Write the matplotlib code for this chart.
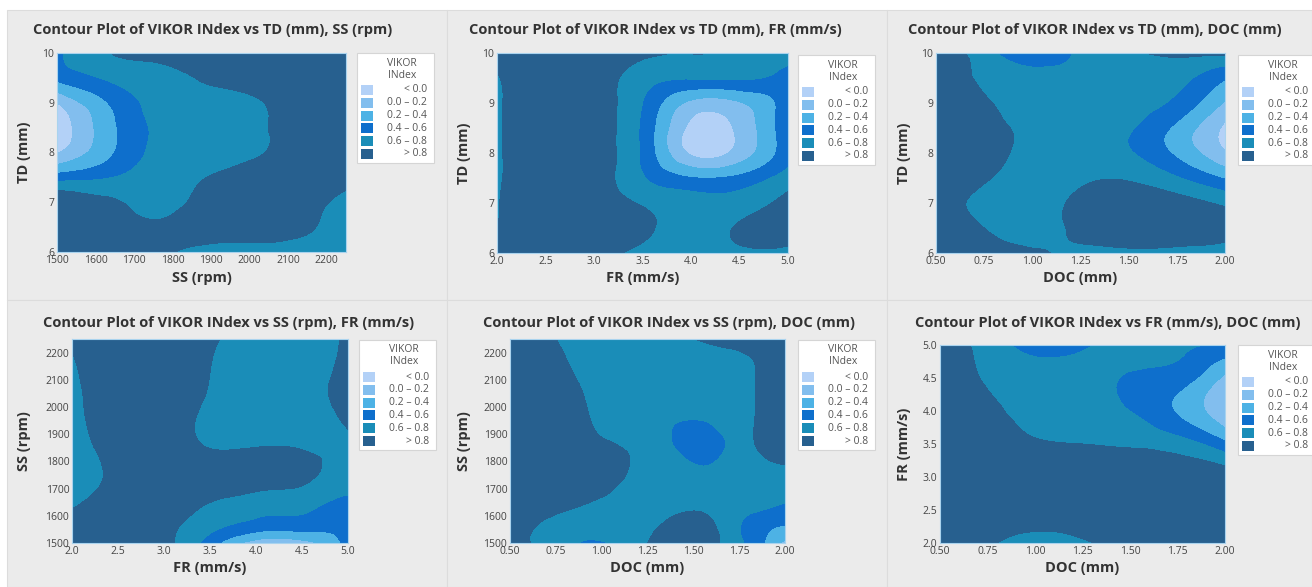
import numpy as np
import matplotlib
matplotlib.use('Agg')
import matplotlib.pyplot as plt
import matplotlib.tri as mtri
from matplotlib.patches import Rectangle

plt.rcParams['font.family'] = ['Open Sans', 'DejaVu Sans']

W, H = 1312, 587

# VIKOR index bands
levels = [-5.0, 0.0, 0.2, 0.4, 0.6, 0.8, 5.0]
band_colors = ['#B3D1F7', '#82BEEE', '#4DB2E5', '#0E6FCC', '#1A8DB8', '#27608F']
band_labels = ['< 0.0', '0.0 \u2013 0.2', '0.2 \u2013 0.4', '0.4 \u2013 0.6', '0.6 \u2013 0.8', '> 0.8']

# TD vs SS
p1_ss = [1500, 1625, 1750, 1875, 2000, 2125, 2250]
p1_td = [10, 9.5, 9, 8.5, 8, 7.5, 7, 6.5, 6]
p1_vikor = [
    [0.55, 0.78, 0.88, 0.90, 0.90, 0.90, 0.90],
    [0.45, 0.62, 0.70, 0.82, 0.90, 0.90, 0.90],
    [0.00, 0.38, 0.65, 0.72, 0.76, 0.88, 0.90],
    [-0.15, 0.30, 0.62, 0.72, 0.75, 0.88, 0.92],
    [-0.02, 0.33, 0.64, 0.72, 0.76, 0.88, 0.90],
    [0.50, 0.58, 0.70, 0.79, 0.88, 0.90, 0.88],
    [0.95, 0.84, 0.74, 0.84, 0.90, 0.88, 0.72],
    [0.92, 0.88, 0.83, 0.88, 0.88, 0.84, 0.70],
    [0.92, 0.90, 0.86, 0.74, 0.72, 0.72, 0.68],
]

# TD vs FR
p2_fr = [2.0, 2.5, 3.0, 3.5, 4.0, 4.5, 5.0]
p2_td = [10, 9.5, 9, 8.5, 8, 7.5, 7, 6.5, 6]
p2_vikor = [
    [0.85, 0.90, 0.90, 0.85, 0.80, 0.78, 0.72],
    [0.79, 0.92, 0.90, 0.70, 0.62, 0.62, 0.50],
    [0.78, 0.92, 0.90, 0.60, 0.15, 0.18, 0.50],
    [0.78, 0.92, 0.90, 0.56, -0.05, 0.05, 0.55],
    [0.78, 0.92, 0.90, 0.56, -0.03, 0.08, 0.52],
    [0.78, 0.92, 0.90, 0.62, 0.41, 0.45, 0.70],
    [0.79, 0.92, 0.90, 0.78, 0.68, 0.70, 0.85],
    [0.80, 0.90, 0.90, 0.84, 0.72, 0.82, 0.90],
    [0.85, 0.90, 0.88, 0.74, 0.70, 0.76, 0.74],
]

# TD vs DOC
p3_doc = [0.5, 0.75, 1.0, 1.25, 1.5, 1.75, 2.0]
p3_td = [10, 9.5, 9, 8.5, 8, 7.5, 7, 6.5, 6]
p3_vikor = [
    [0.85, 0.70, 0.40, 0.66, 0.78, 0.84, 0.85],
    [0.90, 0.77, 0.70, 0.70, 0.70, 0.66, 0.42],
    [0.90, 0.82, 0.72, 0.70, 0.68, 0.55, 0.18],
    [0.92, 0.86, 0.75, 0.70, 0.62, 0.35, -0.04],
    [0.92, 0.86, 0.75, 0.70, 0.62, 0.36, 0.02],
    [0.90, 0.82, 0.72, 0.76, 0.78, 0.62, 0.38],
    [0.88, 0.75, 0.70, 0.85, 0.90, 0.88, 0.76],
    [0.90, 0.80, 0.70, 0.86, 0.92, 0.92, 0.88],
    [0.92, 0.90, 0.84, 0.74, 0.76, 0.74, 0.70],
]

# SS vs FR
p4_fr = [2.0, 2.5, 3.0, 3.5, 4.0, 4.5, 5.0]
p4_ss = [2250, 2125, 2000, 1875, 1750, 1625, 1560, 1500]
p4_vikor = [
    [0.81, 0.90, 0.90, 0.83, 0.70, 0.72, 0.82],
    [0.78, 0.90, 0.92, 0.80, 0.70, 0.72, 0.85],
    [0.76, 0.90, 0.92, 0.77, 0.70, 0.72, 0.86],
    [0.74, 0.88, 0.92, 0.77, 0.76, 0.76, 0.78],
    [0.72, 0.84, 0.92, 0.90, 0.90, 0.85, 0.72],
    [0.80, 0.90, 0.90, 0.76, 0.66, 0.63, 0.52],
    [0.92, 0.92, 0.86, 0.66, 0.50, 0.48, 0.45],
    [0.92, 0.92, 0.85, 0.50, 0.10, 0.12, 0.48],
]

# SS vs DOC
p5_doc = [0.5, 0.75, 1.0, 1.25, 1.56, 1.8, 2.0]
p5_ss = [2250, 2125, 2000, 1870, 1750, 1625, 1560, 1500]
p5_vikor = [
    [0.90, 0.80, 0.70, 0.70, 0.82, 0.84, 0.82],
    [0.90, 0.85, 0.72, 0.68, 0.70, 0.78, 0.90],
    [0.92, 0.88, 0.76, 0.68, 0.68, 0.78, 0.90],
    [0.92, 0.90, 0.81, 0.72, 0.52, 0.76, 0.88],
    [0.92, 0.90, 0.85, 0.74, 0.66, 0.72, 0.76],
    [0.90, 0.83, 0.76, 0.72, 0.78, 0.64, 0.55],
    [0.88, 0.74, 0.70, 0.76, 0.86, 0.54, 0.38],
    [0.84, 0.70, 0.58, 0.80, 0.88, 0.56, 0.15],
]

# FR vs DOC
p6_doc = [0.5, 0.75, 1.0, 1.25, 1.5, 1.75, 2.0]
p6_fr = [5.0, 4.5, 4.0, 3.5, 3.0, 2.5, 2.0]
p6_vikor = [
    [0.90, 0.72, 0.52, 0.56, 0.70, 0.64, 0.58],
    [0.88, 0.78, 0.70, 0.70, 0.58, 0.50, 0.15],
    [0.90, 0.84, 0.74, 0.70, 0.60, 0.38, 0.05],
    [0.92, 0.90, 0.82, 0.80, 0.78, 0.70, 0.45],
    [0.92, 0.92, 0.90, 0.90, 0.88, 0.90, 0.90],
    [0.92, 0.90, 0.88, 0.90, 0.92, 0.92, 0.88],
    [0.90, 0.82, 0.74, 0.78, 0.86, 0.88, 0.80],
]

ss_ticks = [1500, 1600, 1700, 1800, 1900, 2000, 2100, 2200]
td_ticks = [6, 7, 8, 9, 10]
fr_ticks = [2.0, 2.5, 3.0, 3.5, 4.0, 4.5, 5.0]
doc_ticks = [0.50, 0.75, 1.00, 1.25, 1.50, 1.75, 2.00]

panels = [
    dict(x=p1_ss, y=p1_td, z=p1_vikor, xlab='SS (rpm)', ylab='TD (mm)',
         xt=ss_ticks, xf='%d', yt=td_ticks, yf='%d', xlim=(1500, 2250), ylim=(6, 10),
         box=(57, 53, 346, 252), leg=(357, 53), title_x=33, title_y=30, xlab_y=278, ylab_x=24),
    dict(x=p2_fr, y=p2_td, z=p2_vikor, xlab='FR (mm/s)', ylab='TD (mm)',
         xt=fr_ticks, xf='%.1f', yt=td_ticks, yf='%d', xlim=(2, 5), ylim=(6, 10),
         box=(497, 53, 788, 253), leg=(798, 55), title_x=469, title_y=30, xlab_y=278, ylab_x=464),
    dict(x=p3_doc, y=p3_td, z=p3_vikor, xlab='DOC (mm)', ylab='TD (mm)',
         xt=doc_ticks, xf='%.2f', yt=td_ticks, yf='%d', xlim=(0.5, 2), ylim=(6, 10),
         box=(936, 53, 1225, 253), leg=(1238, 55), title_x=908, title_y=30, xlab_y=278, ylab_x=904),
    dict(x=p4_fr, y=p4_ss, z=p4_vikor, xlab='FR (mm/s)', ylab='SS (rpm)',
         xt=fr_ticks, xf='%.1f', yt=ss_ticks, yf='%d', xlim=(2, 5), ylim=(1500, 2250),
         box=(72, 339, 348, 543), leg=(359, 340), title_x=43, title_y=323, xlab_y=568, ylab_x=24),
    dict(x=p5_doc, y=p5_ss, z=p5_vikor, xlab='DOC (mm)', ylab='SS (rpm)',
         xt=doc_ticks, xf='%.2f', yt=ss_ticks, yf='%d', xlim=(0.5, 2), ylim=(1500, 2250),
         box=(510, 339, 785, 543), leg=(798, 340), title_x=483, title_y=323, xlab_y=568, ylab_x=464),
    dict(x=p6_doc, y=p6_fr, z=p6_vikor, xlab='DOC (mm)', ylab='FR (mm/s)',
         xt=doc_ticks, xf='%.2f', yt=fr_ticks, yf='%.1f', xlim=(0.5, 2), ylim=(2, 5),
         box=(940, 345, 1225, 543), leg=(1238, 345), title_x=915, title_y=323, xlab_y=568, ylab_x=904),
]


def fx(px):
    return px / W


def fy(py):
    return 1 - py / H


def smooth_field(xs, ys, zs, subdiv=4):
    # cubic refinement on a unit square so both axes weigh the same
    xs = np.asarray(xs, float)
    ys = np.asarray(ys, float)
    X, Y = np.meshgrid(xs, ys)
    u = (X - xs.min()) / np.ptp(xs)
    v = (Y - ys.min()) / np.ptp(ys)
    tri = mtri.Triangulation(u.ravel(), v.ravel())
    fine, zf = mtri.UniformTriRefiner(tri).refine_field(np.asarray(zs, float).ravel(), subdiv=subdiv)
    xf = xs.min() + fine.x * np.ptp(xs)
    yf = ys.min() + fine.y * np.ptp(ys)
    return mtri.Triangulation(xf, yf, fine.triangles), zf


def draw_legend(fig, left, top):
    fig.patches.append(Rectangle((fx(left), fy(top + 110)), 77 / W, 110 / H,
                                 transform=fig.transFigure, facecolor='white',
                                 edgecolor='#D5D5D5', lw=0.8, zorder=2))
    cx = left + 45
    fig.text(fx(cx), fy(top + 10), 'VIKOR', ha='center', va='center',
             fontsize=7.5, color='#555555', zorder=3)
    fig.text(fx(cx), fy(top + 22), 'INdex', ha='center', va='center',
             fontsize=7.5, color='#555555', zorder=3)
    for i, (c, lab) in enumerate(zip(band_colors, band_labels)):
        yc = top + 37 + i * 12.8
        fig.patches.append(Rectangle((fx(left + 4), fy(yc + 5)), 12 / W, 10 / H,
                                     transform=fig.transFigure, facecolor=c,
                                     edgecolor='none', zorder=3))
        fig.text(fx(left + 70), fy(yc), lab, ha='right', va='center',
                 fontsize=7.5, color='#555555', zorder=3)


fig = plt.figure(figsize=(W / 100, H / 100), dpi=100)
fig.patch.set_facecolor('white')

# grey panel backgrounds
for (x0, x1) in [(7, 447), (447, 887), (887, 1312)]:
    for (y0, y1) in [(10, 300), (300, 587)]:
        fig.patches.append(Rectangle((fx(x0), fy(y1)), (x1 - x0) / W, (y1 - y0) / H,
                                     transform=fig.transFigure, facecolor='#EBEBEB',
                                     edgecolor='#DCDCDC', lw=0.8, zorder=-2))

for p in panels:
    l, t, r, b = p['box']
    ax = fig.add_axes([fx(l), fy(b), (r - l) / W, (b - t) / H])
    tri, zf = smooth_field(p['x'], p['y'], p['z'])
    ax.tricontourf(tri, zf, levels=levels, colors=band_colors)
    ax.set_xlim(*p['xlim'])
    ax.set_ylim(*p['ylim'])
    ax.set_xticks(p['xt'])
    ax.set_xticklabels([p['xf'] % v for v in p['xt']])
    ax.set_yticks(p['yt'])
    ax.set_yticklabels([p['yf'] % v for v in p['yt']])
    ax.tick_params(length=0, pad=2, labelsize=7.5, labelcolor='#444444')
    for s in ax.spines.values():
        s.set_color('#A9D3EE')
        s.set_linewidth(0.8)

    fig.text(fx(p['title_x']), fy(p['title_y']),
             'Contour Plot of VIKOR INdex vs %s, %s' % (p['ylab'], p['xlab']),
             ha='left', va='center', fontsize=10.5, fontweight='bold', color='#333333')
    fig.text(fx((l + r) / 2), fy(p['xlab_y']), p['xlab'], ha='center', va='center',
             fontsize=10.5, fontweight='bold', color='#333333')
    fig.text(fx(p['ylab_x']), fy((t + b) / 2), p['ylab'], ha='center', va='center',
             rotation=90, fontsize=10.5, fontweight='bold', color='#333333')
    draw_legend(fig, *p['leg'])

fig.savefig('out.png', dpi=100)
